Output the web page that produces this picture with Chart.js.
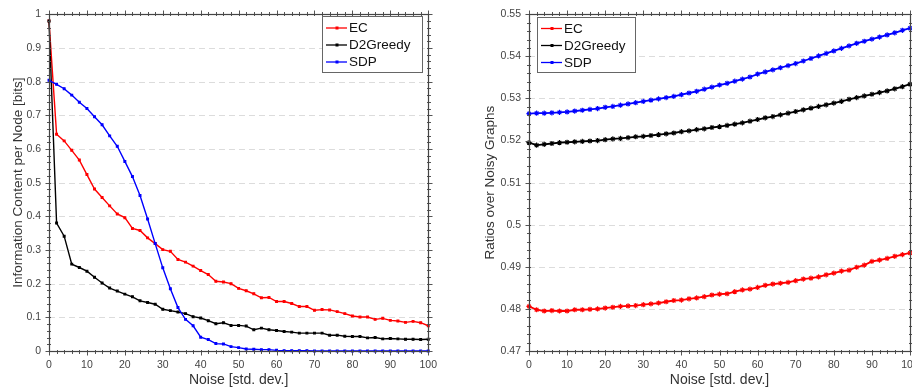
<!DOCTYPE html>
<html>
<head>
<meta charset="utf-8">
<script src="https://cdn.jsdelivr.net/npm/chart.js@4.4.1/dist/chart.umd.min.js"></script>
<style>
html,body{margin:0;padding:0;background:#fff;width:912px;height:387px;overflow:hidden;position:relative}
canvas{position:absolute;top:0}
#c1{left:0}
#c2{left:470px}
</style>
</head>
<body>
<canvas id="c1" width="445" height="387"></canvas>
<canvas id="c2" width="460" height="387"></canvas>
<script>
// ---------- data ----------
const noise = [0,2,4,6,8,10,12,14,16,18,20,22,24,26,28,30,32,34,36,38,40,42,44,46,48,50,52,54,56,58,60,62,64,66,68,70,72,74,76,78,80,82,84,86,88,90,92,94,96,98,100];
const seriesNames = ['EC','D2Greedy','SDP'];
const xTickLabels = ['0','10','20','30','40','50','60','70','80','90','100'];

// left chart: information content per node [bits]
const infoEC = [0.98,0.644,0.624,0.596,0.567,0.524,0.481,0.456,0.431,0.407,0.396,0.364,0.358,0.336,0.319,0.301,0.296,0.272,0.264,0.252,0.239,0.227,0.207,0.205,0.200,0.186,0.179,0.170,0.158,0.159,0.147,0.147,0.141,0.132,0.132,0.121,0.123,0.122,0.117,0.111,0.104,0.101,0.101,0.094,0.097,0.091,0.089,0.085,0.088,0.084,0.075];
const infoD2 = [0.98,0.380,0.341,0.258,0.248,0.237,0.219,0.202,0.187,0.178,0.169,0.161,0.149,0.144,0.139,0.124,0.120,0.116,0.111,0.102,0.098,0.090,0.081,0.084,0.076,0.076,0.074,0.063,0.068,0.063,0.061,0.058,0.056,0.053,0.053,0.053,0.053,0.047,0.047,0.044,0.043,0.043,0.039,0.040,0.036,0.037,0.036,0.035,0.035,0.034,0.035];
const infoSDP = [0.804,0.792,0.779,0.760,0.739,0.720,0.696,0.672,0.639,0.608,0.563,0.518,0.462,0.392,0.319,0.247,0.185,0.129,0.094,0.075,0.041,0.034,0.022,0.021,0.013,0.010,0.006,0.005,0.004,0.004,0.002,0.001,0.001,0.001,0.001,0,0,0,0,0,0,0,0,0,0,0,0,0,0,0,0];
const infoYTicks = ['0','0.1','0.2','0.3','0.4','0.5','0.6','0.7','0.8','0.9','1'];

// right chart: ratios over noisy graphs
const ratioEC = [0.4806,0.4798,0.4795,0.4796,0.4795,0.4795,0.4798,0.4798,0.4799,0.4800,0.4802,0.4804,0.4806,0.4807,0.4808,0.4810,0.4812,0.4814,0.4817,0.4820,0.4821,0.4824,0.4826,0.4829,0.4833,0.4835,0.4836,0.4841,0.4845,0.4847,0.4851,0.4856,0.4859,0.4861,0.4863,0.4867,0.4871,0.4873,0.4876,0.4881,0.4885,0.4890,0.4892,0.4899,0.4904,0.4913,0.4916,0.4920,0.4925,0.4929,0.4933];
const ratioD2 = [0.5195,0.5189,0.5191,0.5193,0.5195,0.5196,0.5197,0.5198,0.5199,0.5200,0.5202,0.5204,0.5205,0.5207,0.5209,0.5210,0.5212,0.5214,0.5216,0.5218,0.5221,0.5223,0.5226,0.5228,0.5231,0.5233,0.5236,0.5239,0.5242,0.5246,0.5250,0.5254,0.5257,0.5261,0.5265,0.5269,0.5273,0.5277,0.5281,0.5285,0.5289,0.5293,0.5298,0.5302,0.5306,0.5310,0.5314,0.5318,0.5323,0.5328,0.5334];
const ratioSDP = [0.5264,0.5265,0.5265,0.5266,0.5267,0.5268,0.5270,0.5272,0.5274,0.5276,0.5279,0.5281,0.5284,0.5287,0.5290,0.5293,0.5296,0.5299,0.5302,0.5305,0.5309,0.5313,0.5317,0.5322,0.5327,0.5332,0.5336,0.5341,0.5346,0.5351,0.5358,0.5363,0.5368,0.5373,0.5378,0.5383,0.5389,0.5395,0.5401,0.5407,0.5413,0.5419,0.5425,0.5431,0.5436,0.5441,0.5446,0.5451,0.5456,0.5462,0.5467];
const ratioYTicks = ['0.47','0.48','0.49','0.5','0.51','0.52','0.53','0.54','0.55'];

// ---------- styles ----------
const colors = ['#ff0000','#000000','#0000ff'];
Chart.defaults.font.family = '"Liberation Sans", Arial, Helvetica, sans-serif';
const FONT = '"Liberation Sans", Arial, Helvetica, sans-serif';

const framePlugin = {
  id: 'frame',
  beforeDatasetsDraw(chart, args, o) {
    const {ctx, chartArea: a, scales: {y}} = chart;
    ctx.save();
    ctx.strokeStyle = '#dcdcdc';
    ctx.lineWidth = 1;
    ctx.setLineDash([6, 4]);
    y.ticks.forEach(t => {
      if (t.value <= y.min + 1e-9 || t.value >= y.max - 1e-9) return;
      const py = Math.round(y.getPixelForValue(t.value)) + 0.5;
      ctx.beginPath(); ctx.moveTo(a.left, py); ctx.lineTo(a.right, py); ctx.stroke();
    });
    ctx.restore();
  },
  afterDatasetsDraw(chart, args, o) {
    const {ctx, chartArea: a, scales: {x, y}} = chart;
    ctx.save();
    ctx.strokeStyle = '#555';
    ctx.lineWidth = 1;
    const L = Math.round(a.left) + 0.5, R = Math.round(a.right) + 0.5;
    const T = Math.round(a.top) + 0.5, B = Math.round(a.bottom) + 0.5;
    ctx.beginPath();
    const nx = Math.round((x.max - x.min) / o.xMinor);
    for (let i = 0; i <= nx; i++) {
      const v = x.min + i * o.xMinor;
      const px = Math.round(x.getPixelForValue(v)) + 0.5;
      const major = i % o.xEvery === 0;
      const out = major ? 4 : 2.5, inn = 1.5;
      ctx.moveTo(px, B - inn); ctx.lineTo(px, B + out);
      ctx.moveTo(px, T + inn); ctx.lineTo(px, T - out);
    }
    const ny = Math.round((y.max - y.min) / o.yMinor);
    for (let i = 0; i <= ny; i++) {
      const v = y.min + i * o.yMinor;
      const py = Math.round(y.getPixelForValue(v)) + 0.5;
      const major = i % o.yEvery === 0;
      const out = major ? 4 : 2.5, inn = 1.5;
      ctx.moveTo(L + inn, py); ctx.lineTo(L - out, py);
      ctx.moveTo(R - inn, py); ctx.lineTo(R + out, py);
    }
    ctx.stroke();
    ctx.lineWidth = 1.2;
    ctx.strokeStyle = '#444';
    ctx.strokeRect(L, T, R - L, B - T);
    // legend
    const lg = o.legend;
    ctx.fillStyle = '#fff';
    ctx.fillRect(lg.x, lg.y, lg.w, lg.h);
    ctx.strokeStyle = '#666';
    ctx.lineWidth = 1;
    ctx.strokeRect(lg.x + 0.5, lg.y + 0.5, lg.w, lg.h);
    ctx.font = '13.5px ' + FONT;
    ctx.textBaseline = 'middle';
    chart.data.datasets.forEach((ds, i) => {
      const cy = lg.y + lg.rowTop + i * lg.rowH;
      ctx.strokeStyle = ds.borderColor;
      ctx.lineWidth = 1.3;
      ctx.beginPath(); ctx.moveTo(lg.x + 4, cy); ctx.lineTo(lg.x + 25, cy); ctx.stroke();
      ctx.fillStyle = ds.borderColor;
      ctx.fillRect(lg.x + 13.5, cy - 1.5, 3, 3);
      ctx.fillStyle = '#111';
      ctx.fillText(ds.label, lg.x + 27, cy + 0.5);
    });
    ctx.restore();
  }
};

function makeChart(id, vals, ymin, ymax, ystep, yLabels, yTitle, yWidth, padRight, titlePad, pstyle, prad, lw, frameOpts) {
  const datasets = vals.map((arr, i) => ({
    label: seriesNames[i],
    data: arr.map((v, j) => ({x: noise[j], y: v})),
    borderColor: colors[i],
    backgroundColor: colors[i],
    borderWidth: lw,
    pointStyle: pstyle,
    pointRadius: prad,
    pointBorderWidth: 1.1,
    pointHoverRadius: prad,
    tension: 0,
    order: 2 - i,
    clip: 4
  }));
  return new Chart(document.getElementById(id), {
    type: 'line',
    data: {datasets},
    plugins: [framePlugin],
    options: {
      animation: false,
      responsive: false,
      events: [],
      layout: {padding: {top: 10, right: padRight, left: 0, bottom: 0}},
      scales: {
        x: {
          type: 'linear', min: 0, max: 100,
          grid: {display: false, drawTicks: false},
          border: {display: false},
          ticks: {stepSize: 10, color: '#444', font: {size: 10.5}, padding: 8, maxRotation: 0,
                  callback: (v) => xTickLabels[Math.round(v / 10)] },
          title: {display: true, text: 'Noise [std. dev.]', color: '#333', font: {size: 14}, padding: {top: 0, bottom: -2}},
          afterFit: (s) => { s.height = 36; }
        },
        y: {
          type: 'linear', min: ymin, max: ymax,
          grid: {display: false, drawTicks: false},
          border: {display: false},
          ticks: {stepSize: ystep, color: '#444', font: {size: 10.5}, padding: 8,
                  callback: (v) => yLabels[Math.round((v - ymin) / ystep)] },
          title: {display: true, text: yTitle, color: '#333', font: {size: 13.5}, padding: {top: titlePad, bottom: 0}},
          afterFit: (s) => { s.width = yWidth; }
        }
      },
      plugins: {legend: {display: false}, tooltip: {enabled: false}, frame: frameOpts}
    }
  });
}

makeChart('c1', [infoEC, infoD2, infoSDP], 0, 1, 0.1, infoYTicks,
  'Information Content per Node [bits]', 49, 16, 10, 'rect', 1.3, 1.4,
  {xMinor: 2, xEvery: 5, yMinor: 0.02, yEvery: 5,
   legend: {x: 322, y: 16, w: 100, h: 56, rowTop: 12, rowH: 17}});

makeChart('c2', [ratioEC, ratioD2, ratioSDP], 0.47, 0.55, 0.01, ratioYTicks,
  'Ratios over Noisy Graphs', 59, 20, 12, 'star', 2.6, 1.8,
  {xMinor: 2, xEvery: 5, yMinor: 0.002, yEvery: 5,
   legend: {x: 67, y: 17, w: 98, h: 55, rowTop: 11.5, rowH: 17}});
</script>
</body>
</html>
